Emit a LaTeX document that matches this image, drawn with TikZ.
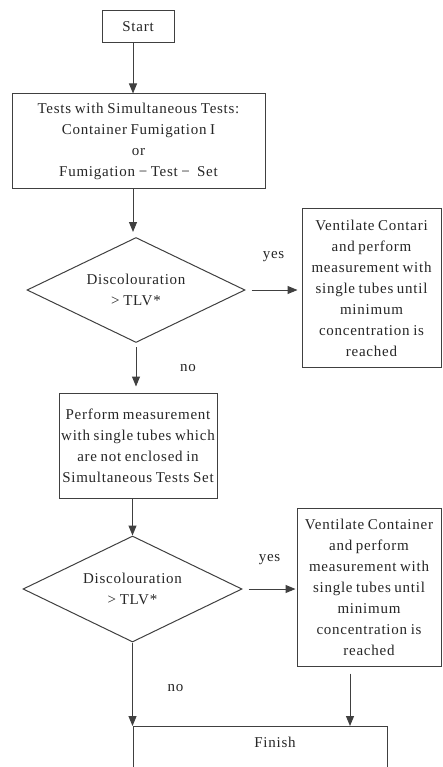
\documentclass[tikz,border=0pt]{standalone}
\usepackage{fontspec}
\setmainfont{Liberation Serif}[LetterSpace=5,WordSpace=0.8]
\usetikzlibrary{shapes.geometric,arrows.meta}
\newcommand{\cl}[1]{\makebox[0pt]{#1}}
\begin{document}
\begin{tikzpicture}[x=1pt,y=-1pt,
  every node/.style={font=\fontsize{15}{21}\selectfont, text=black!85},
  box/.style={draw=black!75, line width=1pt, rectangle, inner sep=0pt, align=center},
  dia/.style={draw=black!75, line width=1pt, diamond, inner sep=0pt, align=center},
  arr/.style={draw=black!75, line width=1pt, -{Triangle[length=10pt,width=8pt]}},
  lbl/.style={inner sep=0pt}]
\clip (0,0) rectangle (442,767);
\fill[white] (0,0) rectangle (442,767);

\node[box, minimum width=72pt, minimum height=32pt] (start) at (138,27) {Start};
\node[box, minimum width=253pt, minimum height=95pt] (tests) at (138.5,141.5)
  {\cl{Tests with Simultaneous Tests:}\\ \cl{Container Fumigation I}\\ \cl{or}\\ \cl{Fumigation~−~Test~−~~Set}};
\node[dia, minimum width=218pt, minimum height=105pt] (d1) at (136,290)
  {\cl{Discolouration}\\ \cl{> TLV*}};
\node[box, minimum width=139pt, minimum height=158pt] (v1) at (371.5,288)
  {\cl{Ventilate Contari}\\ \cl{and perform}\\ \cl{measurement with}\\ \cl{single tubes until}\\ \cl{minimum}\\ \cl{concentration is}\\ \cl{reached}};
\node[box, minimum width=158pt, minimum height=105pt] (pm) at (138,445.5)
  {\cl{Perform measurement}\\ \cl{with single tubes which}\\ \cl{are not enclosed in}\\ \cl{Simultaneous Tests Set}};
\node[dia, minimum width=219pt, minimum height=106pt] (d2) at (132.5,589)
  {\cl{Discolouration}\\ \cl{> TLV*}};
\node[box, minimum width=144pt, minimum height=158pt] (v2) at (369,587)
  {\cl{Ventilate Container}\\ \cl{and perform}\\ \cl{measurement with}\\ \cl{single tubes until}\\ \cl{minimum}\\ \cl{concentration is}\\ \cl{reached}};
\node[box, minimum width=254pt, minimum height=80pt, anchor=north] (fin) at (260,726) {};
\node[lbl] (fintxt) at (275,742) {Finish};

\draw[arr] ([xshift=-5pt]start.south) -- ([xshift=-5pt]start.south |- tests.north);
\draw[arr, shorten >=5pt] ([xshift=-3pt]d1.north |- tests.south) -- ([xshift=-3pt]d1.north);
\draw[arr, shorten <=6pt, shorten >=4pt] (d1.east) -- node[lbl, yshift=33pt] {yes} (d1.east -| v1.west);
\draw[arr, shorten <=4pt, shorten >=6pt] (d1.south) -- node[lbl, xshift=52pt] {no} (d1.south |- pm.north);
\draw[arr] (d2.north |- pm.south) -- (d2.north);
\draw[arr, shorten <=6pt, shorten >=1pt] (d2.east) -- node[lbl, yshift=29pt] {yes} (d2.east -| v2.west);
\draw[arr, shorten <=7pt] ([xshift=-19pt]v2.south) -- ([xshift=-19pt]v2.south |- fin.north);
\draw[arr] (d2.south) -- node[lbl, xshift=43pt, yshift=-4pt] {no} (d2.south |- fin.north);
\end{tikzpicture}
\end{document}
